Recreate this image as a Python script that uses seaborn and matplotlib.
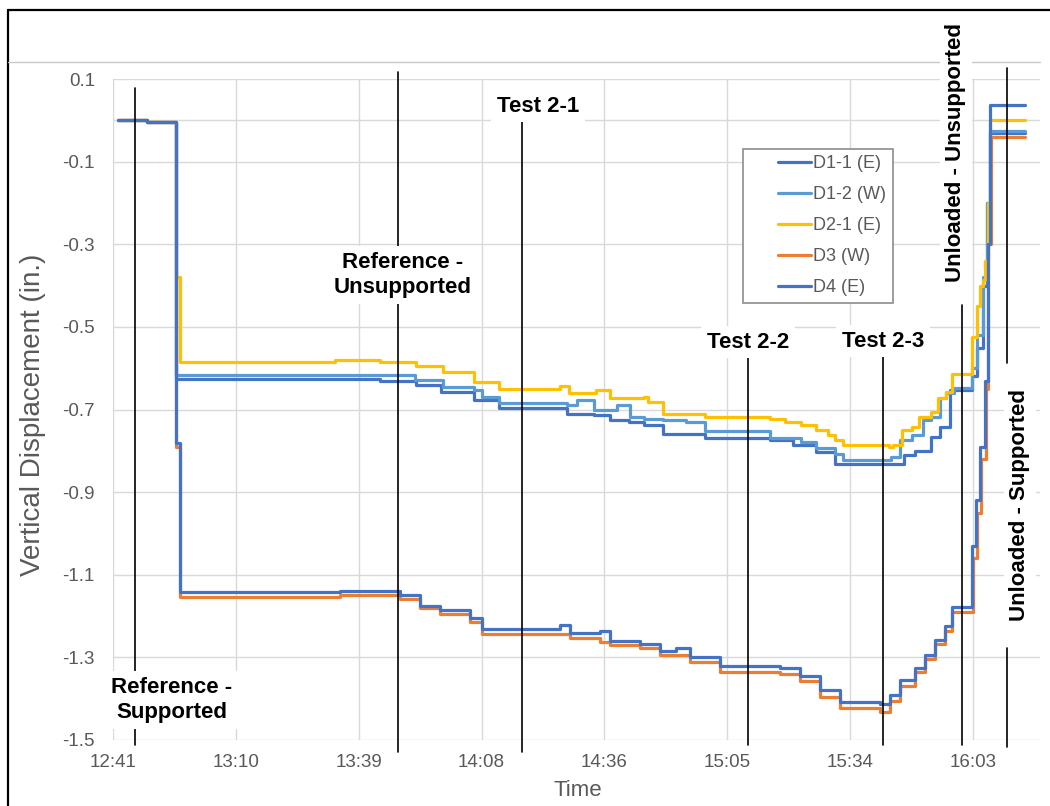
import numpy as np
import pandas as pd
import matplotlib
matplotlib.use("Agg")
import matplotlib.pyplot as plt
import matplotlib.transforms as mtransforms
from matplotlib.lines import Line2D
from matplotlib.patches import Rectangle
import seaborn as sns

# ---------------- data (minutes after the 12:41 tick, displacement in inches) ----------------
series_names = ["D1-1 (E)", "D1-2 (W)", "D2-1 (E)", "D3 (W)", "D4 (E)"]
series_colors = ["#4472C4", "#5B9BD5", "#FFC000", "#ED7D31", "#4472C4"]

t_d11 = [1.2, 8.0, 14.8, 62.6, 71.1, 76.9, 84.6, 90.4, 106.5, 112.8, 116.4, 120.9, 124.5, 129.0,
         138.8, 154.1, 159.4, 164.8, 169.3, 185.4, 188.1, 191.7, 193.9, 196.2, 201.4, 202.5,
         203.9, 204.8, 205.6, 213.8]
v_d11 = [0.0, -0.003, -0.626, -0.631, -0.640, -0.657, -0.677, -0.696, -0.710, -0.714, -0.726,
         -0.730, -0.738, -0.760, -0.768, -0.774, -0.786, -0.803, -0.832, -0.810, -0.800, -0.766,
         -0.742, -0.652, -0.620, -0.550, -0.400, -0.200, -0.030, -0.030]

t_d12 = [1.2, 8.0, 14.8, 62.6, 70.7, 77.4, 84.6, 86.4, 90.4, 106.5, 108.8, 112.8, 118.2, 121.3,
         124.5, 129.0, 134.3, 138.8, 154.1, 161.2, 164.8, 169.3, 171.1, 182.3, 184.5, 187.2,
         189.9, 191.7, 193.9, 195.3, 197.1, 201.4, 202.5, 203.9, 204.8, 205.6, 213.8]
v_d12 = [0.0, -0.003, -0.617, -0.617, -0.628, -0.645, -0.653, -0.669, -0.684, -0.690, -0.676,
         -0.702, -0.690, -0.718, -0.724, -0.726, -0.730, -0.752, -0.770, -0.778, -0.794, -0.807,
         -0.823, -0.815, -0.774, -0.762, -0.726, -0.718, -0.673, -0.660, -0.649, -0.600, -0.520,
         -0.380, -0.200, -0.025, -0.025]

t_d21 = [1.2, 8.0, 14.8, 15.7, 52.0, 62.6, 71.1, 77.4, 84.6, 90.4, 104.7, 107.0, 113.3, 116.4,
         124.5, 125.4, 129.0, 138.8, 154.1, 157.6, 161.2, 164.8, 167.5, 169.3, 171.1, 181.9,
         182.8, 185.0, 187.2, 189.0, 191.7, 193.5, 195.3, 196.7, 201.3, 202.5, 203.2, 203.9,
         204.4, 205.0, 205.6, 213.8]
v_d21 = [0.0, -0.003, -0.380, -0.585, -0.580, -0.585, -0.595, -0.609, -0.633, -0.651, -0.644,
         -0.660, -0.652, -0.673, -0.669, -0.681, -0.710, -0.718, -0.722, -0.730, -0.738, -0.750,
         -0.762, -0.774, -0.785, -0.790, -0.785, -0.750, -0.742, -0.718, -0.706, -0.673, -0.657,
         -0.613, -0.525, -0.450, -0.400, -0.387, -0.340, -0.200, 0.000, 0.000]

t_d3 = [1.2, 8.0, 14.8, 15.7, 53.2, 67.3, 72.0, 76.7, 83.7, 86.4, 107.1, 114.2, 116.5, 123.5,
        128.2, 135.3, 142.3, 156.4, 161.0, 165.7, 170.4, 179.8, 182.1, 184.5, 188.0, 190.3,
        192.7, 195.0, 196.7, 201.6, 202.6, 203.4, 204.6, 205.2, 205.8, 213.8]
v_d3 = [0.0, -0.003, -0.790, -1.155, -1.150, -1.158, -1.180, -1.195, -1.215, -1.243, -1.252,
        -1.262, -1.270, -1.278, -1.295, -1.312, -1.336, -1.340, -1.358, -1.395, -1.423, -1.432,
        -1.405, -1.370, -1.335, -1.305, -1.268, -1.235, -1.190, -1.060, -0.950, -0.820, -0.650,
        -0.300, -0.040, -0.040]

t_d4 = [1.2, 8.0, 14.8, 15.7, 53.2, 67.3, 72.0, 76.7, 83.7, 86.4, 104.8, 107.1, 114.2, 116.5,
        123.5, 128.2, 132.0, 135.3, 142.3, 156.4, 161.0, 165.7, 170.4, 179.8, 182.1, 184.5,
        188.0, 190.3, 192.7, 195.0, 196.7, 201.4, 202.4, 203.2, 204.4, 205.0, 205.6, 213.8]
v_d4 = [0.0, -0.003, -0.780, -1.142, -1.140, -1.150, -1.175, -1.185, -1.205, -1.232, -1.222,
        -1.240, -1.235, -1.260, -1.268, -1.285, -1.278, -1.300, -1.322, -1.326, -1.345, -1.380,
        -1.408, -1.413, -1.390, -1.355, -1.326, -1.295, -1.258, -1.225, -1.178, -1.030, -0.920,
        -0.790, -0.630, -0.300, 0.037, 0.037]

x_ticks = [0.0, 28.8, 57.6, 86.4, 115.2, 144.0, 172.8, 201.6]
x_tick_labels = ["12:41", "13:10", "13:39", "14:08", "14:36", "15:05", "15:34", "16:03"]
y_ticks = [0.1, -0.1, -0.3, -0.5, -0.7, -0.9, -1.1, -1.3, -1.5]
y_tick_labels = ["0.1", "-0.1", "-0.3", "-0.5", "-0.7", "-0.9", "-1.1", "-1.3", "-1.5"]

event_labels = ["Reference -\nSupported", "Reference -\nUnsupported", "Test 2-1", "Test 2-2",
                "Test 2-3", "Unloaded - Unsupported", "Unloaded - Supported"]
event_times = [5.16, 66.8, 95.9, 148.85, 180.5, 199.0, 209.6]

# ---------------- styling ----------------
sns.set_style("white")
plt.rcParams["font.family"] = ["Liberation Sans", "DejaVu Sans"]

W, H = 1050, 806
fig = plt.figure(figsize=(W / 100, H / 100), dpi=100)


def fx(px):
    return px / W


def fy(py):
    return 1 - py / H


ax = fig.add_axes([fx(113), fy(740), (1040 - 113) / W, (740 - 79) / H])

frames = []
for name, t, v in zip(series_names,
                      [t_d11, t_d12, t_d21, t_d3, t_d4],
                      [v_d11, v_d12, v_d21, v_d3, v_d4]):
    frames.append(pd.DataFrame({"Time": t, "Disp": v, "Series": name}))
df = pd.concat(frames, ignore_index=True)

palette = dict(zip(series_names, series_colors))
sns.lineplot(data=df, x="Time", y="Disp", hue="Series", hue_order=series_names,
             palette=palette, estimator=None, sort=False, drawstyle="steps-post",
             linewidth=2.3, legend=False, ax=ax, zorder=2)

ax.set_xlim(0, 217.3)
ax.set_ylim(-1.5, 0.1)
ax.set_xticks(x_ticks)
ax.set_xticklabels(x_tick_labels)
ax.set_yticks(y_ticks)
ax.set_yticklabels(y_tick_labels)
ax.tick_params(axis="both", length=0, labelsize=13.5, labelcolor="#595959")
ax.tick_params(axis="x", pad=10)
ax.tick_params(axis="y", pad=13)
ax.grid(True, color="#D9D9D9", linewidth=1.0)
ax.set_axisbelow(True)
ax.axhline(0.0, color="#D9D9D9", linewidth=1.0, zorder=1)
for s in ax.spines.values():
    s.set_visible(False)

ax.set_xlabel("Time", fontsize=16, color="#595959")
ax.set_ylabel("Vertical Displacement (in.)", fontsize=20, color="#595959")
ax.xaxis.set_label_coords((578 - 113) / 927, (740 - 790) / 661)
ax.xaxis.label.set_va("center")
ax.yaxis.set_label_coords((33 - 113) / 927, (740 - 415) / 661)
ax.yaxis.label.set_va("center")

# event marker lines (x in data, y in axes fraction)
blend = mtransforms.blended_transform_factory(ax.transData, ax.transAxes)


def yf(py):
    return (740 - py) / 661


segments = [
    (0, 88, 745),
    (1, 72, 752),
    (2, 117, 752),
    (3, 355, 745),
    (4, 355, 745),
    (5, 305, 745),
    (6, 68, 363),
    (6, 648, 747),
]
for idx, y0, y1 in segments:
    t = event_times[idx]
    ax.plot([t, t], [yf(y0), yf(y1)], transform=blend, color="black", linewidth=1.2,
            clip_on=False, zorder=3)

# event labels
label_pos = [(172, 700, 0), (403, 275, 0), (538, 106, 0), (748, 342, 0), (883, 341, 0),
             (956, 152, 90), (1020, 505, 90)]
for text, (cx, cy, rot) in zip(event_labels, label_pos):
    fig.text(fx(cx), fy(cy), text, ha="center", va="center", rotation=rot,
             fontsize=16, fontweight="bold", color="black", linespacing=1.25,
             bbox=dict(facecolor="white", edgecolor="none", boxstyle="square,pad=0.25"))

# legend
ax.add_patch(Rectangle((fx(743), fy(303)), fx(893) - fx(743), fy(149) - fy(303),
                       transform=fig.transFigure, facecolor="white", edgecolor="#8C8C8C",
                       linewidth=1.2, clip_on=False, zorder=4))
handles = [Line2D([], [], color=c, linewidth=2.3) for c in series_colors]
ax.legend(handles, series_names, loc="upper left", bbox_to_anchor=(fx(778), fy(155)),
          bbox_transform=fig.transFigure, frameon=False, borderpad=0, borderaxespad=0,
          handlelength=1.83, handletextpad=0.12, labelspacing=0.78, fontsize=13,
          labelcolor="#595959")

# outer chart frame
fig.add_artist(Line2D([fx(8), 1.0], [fy(10), fy(10)], color="black", linewidth=1.6))
fig.add_artist(Line2D([fx(8), fx(8)], [fy(10), 0.0], color="black", linewidth=1.6))
fig.add_artist(Line2D([fx(8), fx(1040)], [fy(62), fy(62)], color="#C8C8C8", linewidth=1.0))

fig.savefig("out.png", dpi=100)
